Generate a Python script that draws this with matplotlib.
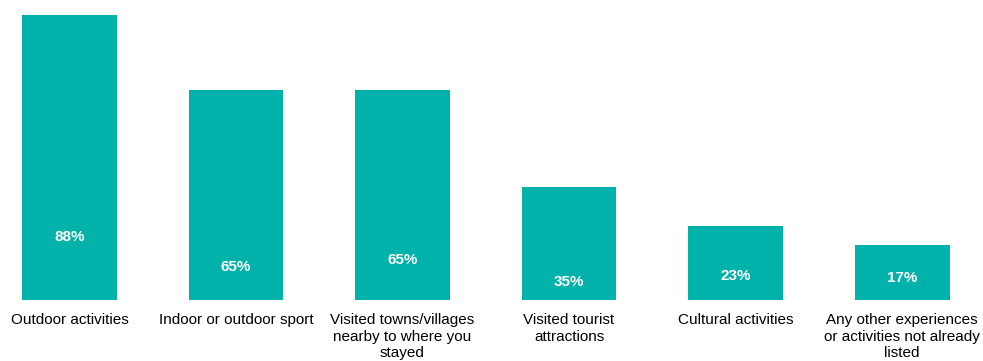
import matplotlib.pyplot as plt

categories = ["Outdoor activities", "Indoor or outdoor sport",
              "Visited towns/villages\nnearby to where you\nstayed",
              "Visited tourist\nattractions", "Cultural activities",
              "Any other experiences\nor activities not already\nlisted"]
values = [88, 65, 65, 35, 23, 17]
# height at which each percentage sits inside its bar
label_y = [19.5, 10.2, 12.4, 5.6, 7.4, 6.8]

plt.rcParams['font.family'] = ['Liberation Sans', 'DejaVu Sans']

fig = plt.figure(figsize=(9.83, 3.61), dpi=100)
ax = fig.add_axes([0, 61/361, 1, 300/361])

x = range(len(values))
ax.bar(x, values, width=0.57, color="#00B2A9")
for i, (v, ly) in enumerate(zip(values, label_y)):
    ax.text(i, ly, f"{v}%", ha="center", va="center", color="white",
            fontsize=11, fontweight="bold")

ax.set_xlim(-0.417, 5.486)
ax.set_ylim(0, 92.65)
ax.set_xticks(list(x))
ax.set_xticklabels(categories, fontsize=11, linespacing=1.22, color="black")
ax.tick_params(axis="x", length=0, pad=9.5)
ax.set_yticks([])
for s in ax.spines.values():
    s.set_visible(False)

fig.savefig("out.png", dpi=100)
